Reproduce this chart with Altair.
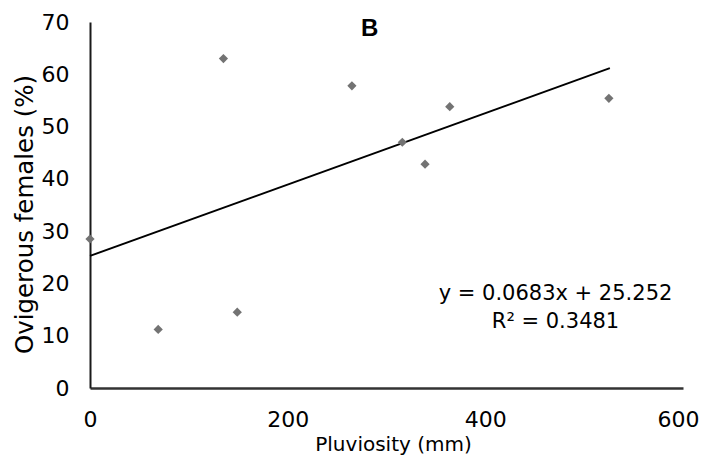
import altair as alt
import pandas as pd

# Data
pluviosity = [0, 69, 135, 149, 265, 316, 339, 364, 525]
ovigerous = [28.5, 11.2, 63.0, 14.5, 57.8, 47.0, 42.8, 53.8, 55.4]

# Trend line (from the equation shown on the chart)
slope = 0.0683
intercept = 25.252
trend_x = [0, 526]

# Annotations
eq_lines = ["y = 0.0683x + 25.252", "R² = 0.3481"]
eq_x = [471, 471]
eq_y = [18.0, 12.7]
panel_label = ["B"]
panel_x = [283]
panel_y = [68.6]

font = "DejaVu Sans"

pts = pd.DataFrame({"x": pluviosity, "y": ovigerous})
trend = pd.DataFrame({"x": trend_x})
eq = pd.DataFrame({"t": eq_lines, "x": eq_x, "y": eq_y})
lab = pd.DataFrame({"t": panel_label, "x": panel_x, "y": panel_y})

xs = alt.Scale(domain=[0, 600], nice=False)
ys = alt.Scale(domain=[0, 70], nice=False)

xaxis = alt.Axis(values=[0, 200, 400, 600], title="Pluviosity (mm)", grid=False,
                 ticks=False, labelPadding=21, labelFontSize=22, labelFont=font,
                 labelFlush=False, labelOverlap=False,
                 labelAlign=alt.condition("datum.value == 600", alt.value("right"), alt.value("center")),
                 labelOffset=alt.condition("datum.value == 600", alt.value(16), alt.value(0)),
                 labelColor="#000000", titleFont=font, titleFontSize=20,
                 titleFontWeight="normal", titleColor="#000000", titlePadding=4,
                 titleX=303,
                 domainColor="#333333", domainWidth=2.5)
yaxis = alt.Axis(values=list(range(0, 71, 10)), title="Ovigerous females (%)", grid=False,
                 ticks=False, labelPadding=21, labelFontSize=22, labelFont=font,
                 labelFlush=False, labelOverlap=False,
                 labelColor="#000000", titleFont=font, titleFontSize=24.5,
                 titleFontWeight="normal", titleColor="#000000", titlePadding=4,
                 titleY=192,
                 domainColor="#1a1a1a", domainWidth=2)

points = alt.Chart(pts).mark_point(shape="diamond", filled=True, color="#737373",
                                   size=85, opacity=1).encode(
    x=alt.X("x:Q", scale=xs, axis=xaxis),
    y=alt.Y("y:Q", scale=ys, axis=yaxis),
)

line = alt.Chart(trend).transform_calculate(
    y=f"{slope} * datum.x + {intercept}"
).mark_line(color="#000000", strokeWidth=1.8).encode(
    x=alt.X("x:Q", scale=xs),
    y=alt.Y("y:Q", scale=ys),
)

eqtext = alt.Chart(eq).mark_text(font=font, fontSize=21, color="#000000",
                                 align="center", baseline="middle").encode(
    x=alt.X("x:Q", scale=xs), y=alt.Y("y:Q", scale=ys), text="t:N")

btext = alt.Chart(lab).mark_text(font="Liberation Sans", fontSize=24, fontWeight="bold",
                                 color="#000000", align="center", baseline="middle").encode(
    x=alt.X("x:Q", scale=xs), y=alt.Y("y:Q", scale=ys), text="t:N")

chart = alt.layer(line, points, eqtext, btext).properties(
    width=593, height=366,
    autosize=alt.AutoSizeParams(type="none"),
    padding={"left": 82, "top": 14, "right": 17, "bottom": 67},
    background="#ffffff",
).configure_view(stroke=None)

chart.save("out.html", embed_options={"renderer": "svg", "actions": False})
